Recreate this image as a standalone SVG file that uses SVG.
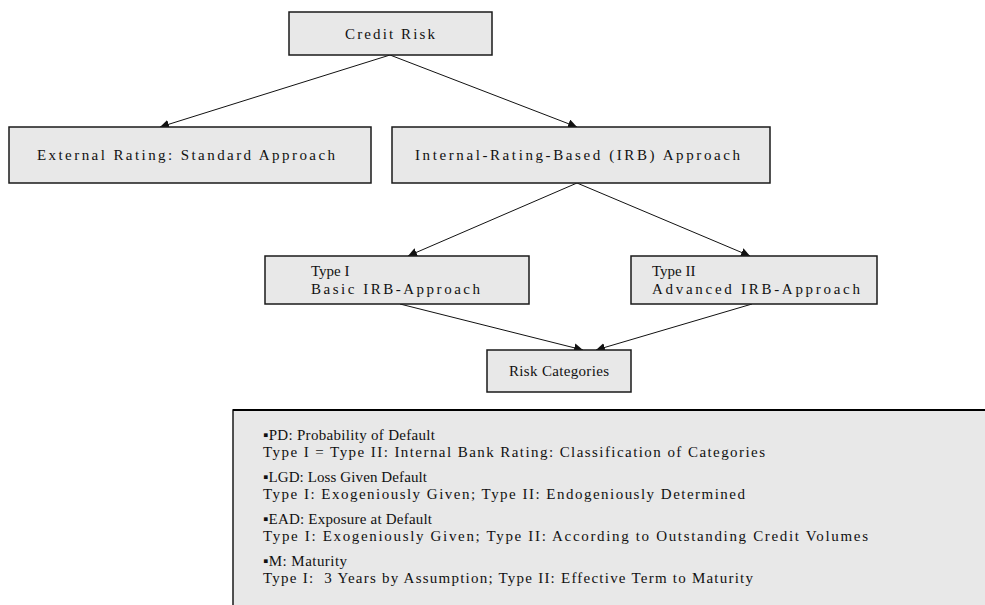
<svg xmlns="http://www.w3.org/2000/svg" width="985" height="605" viewBox="0 0 985 605">
<style>
  .box { fill: #e8e8e8; stroke: #1a1a1a; stroke-width: 1.5; }
  .t { font-family: "Liberation Serif", "Times New Roman", serif; font-size: 15px; fill: #111; white-space: pre; }
  .c { text-anchor: middle; }
  .edge { stroke: #111; stroke-width: 1; fill: none; marker-end: url(#arr); }
</style>
<defs>
  <marker id="arr" viewBox="0 0 10 10" refX="10" refY="5" markerWidth="9" markerHeight="9" markerUnits="userSpaceOnUse" orient="auto">
    <path d="M0,0 L10,5 L0,10 z" fill="#111"/>
  </marker>
</defs>
<rect width="985" height="605" fill="#ffffff"/>

<g id="connectors">
  <line class="edge" x1="390" y1="55" x2="160" y2="127"/>
  <line class="edge" x1="390" y1="55" x2="577" y2="127"/>
  <line class="edge" x1="577" y1="183" x2="408" y2="256"/>
  <line class="edge" x1="577" y1="183" x2="750" y2="256"/>
  <line class="edge" x1="400" y1="304" x2="583" y2="350"/>
  <line class="edge" x1="752" y1="304" x2="596" y2="350"/>
</g>

<g id="credit-risk">
  <rect class="box" x="289" y="12" width="203" height="43"/>
  <text class="t c" x="390" y="39" textLength="90" lengthAdjust="spacing">Credit Risk</text>
</g>

<g id="external-rating">
  <rect class="box" x="9" y="127" width="362" height="56"/>
  <text class="t" x="37" y="160" textLength="298" lengthAdjust="spacing">External Rating: Standard Approach</text>
</g>

<g id="irb-approach">
  <rect class="box" x="392" y="127" width="378" height="56"/>
  <text class="t" x="415" y="160" textLength="325" lengthAdjust="spacing">Internal-Rating-Based (IRB) Approach</text>
</g>

<g id="type-1">
  <rect class="box" x="265" y="256" width="264" height="48"/>
  <text class="t" x="311" y="276">Type I</text>
  <text class="t" x="311" y="294" textLength="169" lengthAdjust="spacing">Basic IRB-Approach</text>
</g>

<g id="type-2">
  <rect class="box" x="631" y="256" width="246" height="48"/>
  <text class="t" x="652" y="276">Type II</text>
  <text class="t" x="652" y="294" textLength="208" lengthAdjust="spacing">Advanced IRB-Approach</text>
</g>

<g id="risk-categories">
  <rect class="box" x="487" y="350" width="144" height="42"/>
  <text class="t c" x="559" y="376" textLength="100" lengthAdjust="spacing">Risk Categories</text>
</g>

<g id="legend">
  <rect x="233" y="410" width="760" height="205" fill="#e8e8e8" stroke="#1a1a1a" stroke-width="1.5"/>
  <line x1="233" y1="410" x2="985" y2="410" stroke="#000" stroke-width="2"/>
  <text class="t" x="263" y="440" textLength="172" lengthAdjust="spacing">▪PD: Probability of Default</text>
  <text class="t" x="263" y="457" textLength="502" lengthAdjust="spacing">Type I = Type II: Internal Bank Rating: Classification of Categories</text>
  <text class="t" x="263" y="482" textLength="164" lengthAdjust="spacing">▪LGD: Loss Given Default</text>
  <text class="t" x="263" y="499" textLength="482" lengthAdjust="spacing">Type I: Exogeniously Given; Type II: Endogeniously Determined</text>
  <text class="t" x="263" y="524" textLength="169" lengthAdjust="spacing">▪EAD: Exposure at Default</text>
  <text class="t" x="263" y="541" textLength="605" lengthAdjust="spacing">Type I: Exogeniously Given; Type II: According to Outstanding Credit Volumes</text>
  <text class="t" x="263" y="566" textLength="84" lengthAdjust="spacing">▪M: Maturity</text>
  <text class="t" x="263" y="583" textLength="490" lengthAdjust="spacing">Type I:  3 Years by Assumption; Type II: Effective Term to Maturity</text>
</g>
</svg>
